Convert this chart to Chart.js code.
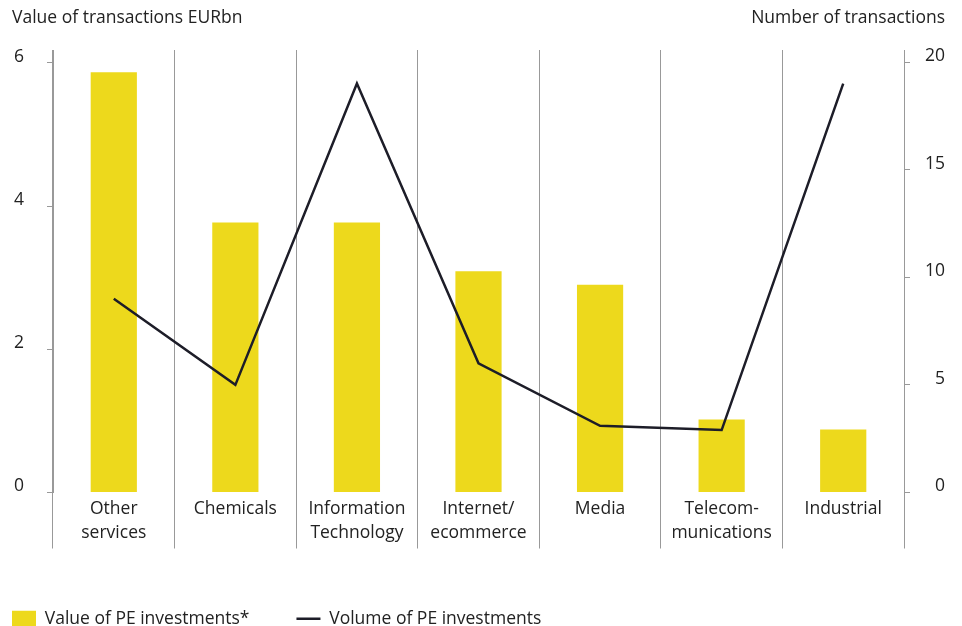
<!DOCTYPE html>
<html><head><meta charset="utf-8">
<script src="https://cdn.jsdelivr.net/npm/chart.js@4"></script>
<style>html,body{margin:0;padding:0;background:#fff}#wrap{width:962px;height:626px;position:relative}</style>
</head><body><div id="wrap"><canvas id="c" width="962" height="626"></canvas></div>
<script>
const categories = [['Other','services'],['Chemicals'],['Information','Technology'],['Internet/','ecommerce'],['Media'],['Telecom-','munications'],['Industrial']];
const valueSeries = [5.87,3.77,3.77,3.09,2.90,1.02,0.88];
const volumeSeries = [9,5,19,6,3.1,2.9,19];
const leftTicks = [0,2,4,6];
const rightTicks = [0,5,10,15,20];
const seriesNames = ['Value of PE investments*','Volume of PE investments'];
const axisTitles = ['Value of transactions EURbn','Number of transactions'];

const FONT = "'Open Sans', sans-serif";
Chart.defaults.font.family = FONT;
Chart.defaults.font.size = 17.5;
Chart.defaults.color = '#222';
const gridColor = '#999';

const titlePlugin = {
  id: 'axisTitles',
  afterDraw(chart) {
    const {ctx, chartArea} = chart;
    ctx.save();
    ctx.font = "17.5px " + FONT;
    ctx.fillStyle = '#222';
    ctx.textBaseline = 'middle';
    ctx.textAlign = 'left';
    ctx.fillText(axisTitles[0], chartArea.left - 41, chartArea.top - 32);
    ctx.textAlign = 'right';
    ctx.fillText(axisTitles[1], chartArea.right + 41, chartArea.top - 32);
    ctx.restore();
  }
};

new Chart(document.getElementById('c'), {
  data: {
    labels: categories,
    datasets: [
      { type: 'bar', label: seriesNames[0], data: valueSeries, yAxisID: 'y',
        backgroundColor: '#EDD91C', borderColor: '#EDD91C', borderWidth: 0,
        categoryPercentage: 1, barPercentage: 0.38, order: 1, pointStyle: 'rect' },
      { type: 'line', label: seriesNames[1], data: volumeSeries, yAxisID: 'y1',
        borderColor: '#1d1d28', backgroundColor: '#1d1d28', borderWidth: 2.5,
        pointRadius: 0, tension: 0, order: 0, pointStyle: 'line' }
    ]
  },
  options: {
    responsive: false, animation: false, events: [],
    layout: { padding: { left: -35, right: 17, top: 50, bottom: -11.5 } },
    plugins: {
      legend: { position: 'bottom', align: 'start',
        labels: { usePointStyle: true, pointStyleWidth: 24, boxHeight: 16, padding: 47,
          sort: (a, b) => a.datasetIndex - b.datasetIndex, color: '#222', font: { size: 17.5 } } },
      tooltip: { enabled: false }
    },
    scales: {
      x: {
        offset: true,
        grid: { offset: true, color: gridColor, lineWidth: 1, tickLength: 56, drawOnChartArea: true },
        border: { display: false },
        ticks: { padding: -51, maxRotation: 0, autoSkip: false, font: { size: 17.5, lineHeight: 1.37 } },
        afterFit: (s) => { s.height = 70.5; }
      },
      y: {
        position: 'left', min: 0, max: 6.18,
        afterBuildTicks: (s) => { s.ticks = leftTicks.map(v => ({ value: v })); },
        grid: { drawOnChartArea: false, tickLength: 6, color: gridColor },
        border: { color: gridColor },
        ticks: { padding: 23, labelOffset: -6, crossAlign: 'near' },
        afterFit: (s) => { s.width = 88; }
      },
      y1: {
        position: 'right', min: 0, max: 20.56,
        afterBuildTicks: (s) => { s.ticks = rightTicks.map(v => ({ value: v })); },
        grid: { drawOnChartArea: false, tickLength: 6, color: gridColor },
        border: { color: gridColor },
        ticks: { padding: 16, labelOffset: -6, crossAlign: 'far' },
        afterFit: (s) => { s.width = 41; }
      }
    }
  },
  plugins: [titlePlugin]
});
</script></body></html>
